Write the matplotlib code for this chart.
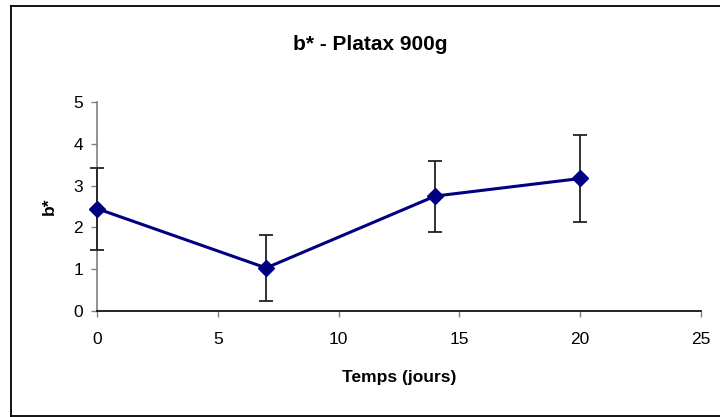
import matplotlib
matplotlib.use("Agg")
import matplotlib.pyplot as plt
from matplotlib.lines import Line2D

days = [0, 7, 14, 20]
b_star = [2.45, 1.03, 2.75, 3.17]
b_err = [0.98, 0.78, 0.85, 1.03]
x_ticks = [0, 5, 10, 15, 20, 25]
y_ticks = [0, 1, 2, 3, 4, 5]

plt.rcParams['font.family'] = ['Liberation Sans', 'DejaVu Sans']

W, H = 720, 417
fig = plt.figure(figsize=(W / 100, H / 100), dpi=100)
ax = fig.add_axes([97 / W, 1 - 311 / H, (701 - 97) / W, (311 - 102) / H])

eb = ax.errorbar(days, b_star, yerr=b_err, fmt='none', ecolor='#222222',
                 elinewidth=1.3, capsize=5, capthick=1.3, zorder=3)
for part in list(eb.lines[1]) + list(eb.lines[2]):
    part.set_clip_on(False)
ax.plot(days, b_star, color='#000080', linewidth=2.2, marker='D',
        markersize=8, markerfacecolor='#000080', markeredgecolor='#000080',
        zorder=4, clip_on=False)

ax.set_xlim(0, 25)
ax.set_ylim(0, 5)
ax.set_xticks(x_ticks)
ax.set_yticks(y_ticks)
for s in ['top', 'right']:
    ax.spines[s].set_visible(False)
ax.spines['left'].set_color('#808080')
ax.spines['bottom'].set_color('black')
ax.spines['left'].set_linewidth(1.2)
ax.spines['bottom'].set_linewidth(1.2)
ax.tick_params(axis='both', direction='out', length=4, width=1, labelsize=12.5)
ax.tick_params(axis='y', colors='#808080', labelcolor='black', pad=6)
ax.tick_params(axis='x', colors='#808080', labelcolor='black', pad=11)

ax.set_xlabel('Temps (jours)', fontsize=12.5, fontweight='bold', labelpad=17)
ax.set_ylabel('b*', fontsize=12.5, fontweight='bold', labelpad=12)
fig.text(370 / W, 1 - 45 / H, 'b* - Platax 900g', fontsize=15,
         fontweight='bold', ha='center', va='center')

# outer chart border
fig.add_artist(Line2D([11 / W, 11 / W], [1 - 6 / H, 1 - 416 / H], color='black', lw=1.3, transform=fig.transFigure))
fig.add_artist(Line2D([11 / W, 1.0], [1 - 6 / H, 1 - 6 / H], color='black', lw=1.3, transform=fig.transFigure))
fig.add_artist(Line2D([11 / W, 1.0], [1 - 416 / H, 1 - 416 / H], color='black', lw=1.3, transform=fig.transFigure))

fig.savefig('out.png', dpi=100)
